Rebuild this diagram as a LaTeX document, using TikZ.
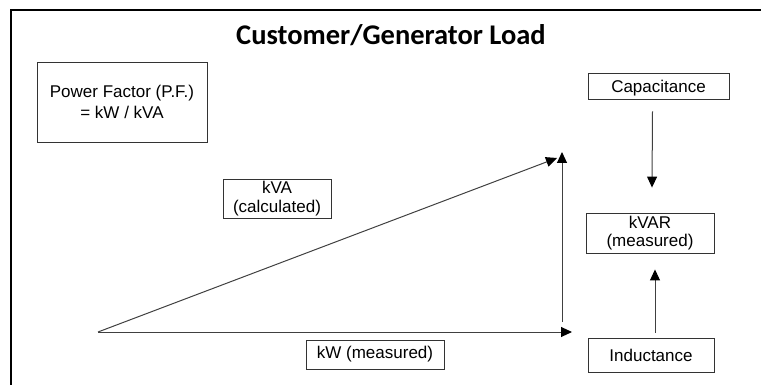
\documentclass[tikz,border=0pt]{standalone}
\usepackage{fontspec}
\setmainfont{Liberation Sans}
\newfontfamily\titlefont{Carlito}
\usetikzlibrary{arrows.meta}

\tikzset{
  lbl/.style={draw=black!80, line width=0.9pt, inner sep=0pt, align=center,
              font=\fontsize{17}{18.5}\selectfont},
  vec/.style={draw=black!75, line width=1pt, -{Triangle[length=11pt,width=10pt,color=black]}},
}

\begin{document}
\begin{tikzpicture}[x=1pt,y=-1pt]
\useasboundingbox (0,0) rectangle (761,385);
\draw[line width=1.6pt] (11,385) -- (11,10) -- (761,10);

\node (title) at (391,35) {\titlefont\bfseries\fontsize{28.5}{32}\selectfont Customer/Generator Load};

\node[lbl, minimum width=170pt, minimum height=80pt, font=\fontsize{17}{21}\selectfont] (pf) at (122,102) {Power Factor (P.F.)\\= kW / kVA};
\node[lbl, minimum width=141pt, minimum height=26pt, text depth=0pt] (cap) at (658.5,86) {Capacitance};
\node[lbl, minimum width=128pt, minimum height=40pt] (kvar) at (650,233) {kVAR\\(measured)};
\node[lbl, minimum width=126pt, minimum height=34pt] (ind) at (651,355) {Inductance};
\node[lbl, minimum width=108pt, minimum height=39pt] (kva) at (277,198.5) {kVA\\(calculated)};
\node[lbl, minimum width=138pt, minimum height=29pt] (kw) at (375,354.5) {kW (measured)};

% power triangle
\coordinate (O) at (98,332);
\coordinate (A) at (572,332);
\coordinate (Ac) at (562,322);
\coordinate (B) at (562,152);
\coordinate (Bh) at (557,158);

\draw[vec] (O) -- (A);
\draw[vec] (Ac) -- (B);
\draw[vec] (O) -- (Bh);

% reactive part
\draw[vec] ([xshift=-6pt,yshift=-12pt]cap.south) -- ([xshift=2pt,yshift=25pt]kvar.north);
\draw[vec] ([xshift=4pt,yshift=5pt]ind.north) -- ([xshift=5pt,yshift=-16pt]kvar.south);
\end{tikzpicture}
\end{document}
